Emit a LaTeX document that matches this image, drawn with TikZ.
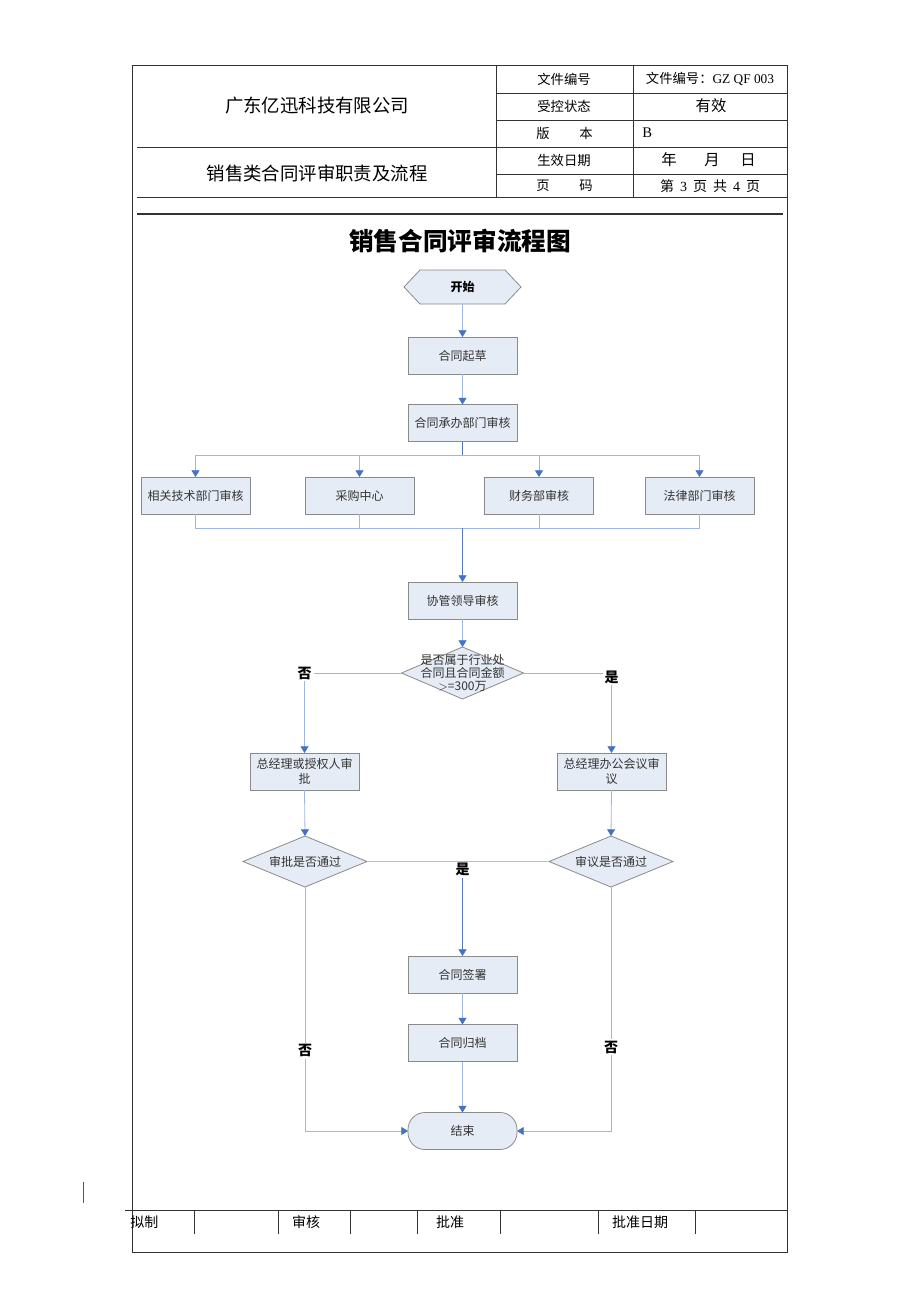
\documentclass[tikz,border=0pt]{standalone}
\usepackage{fontspec}
\setmainfont{Liberation Serif}
\newfontfamily\cjk{Noto Sans CJK SC}
\usetikzlibrary{arrows.meta,calc}
\definecolor{boxfill}{HTML}{E6ECF6}
\definecolor{boxline}{HTML}{8A8A8A}
\definecolor{conn}{HTML}{9FB6E0}
\definecolor{connd}{HTML}{5479C2}
\definecolor{tip}{HTML}{4472C4}
\definecolor{pinkl}{HTML}{E6A9BD}
\definecolor{frame}{HTML}{333333}
\definecolor{redmark}{HTML}{D0203C}
\begin{document}
\begin{tikzpicture}[x=0.75pt,y=-0.75pt,
  box/.style={draw=boxline, fill=boxfill, line width=0.6pt, minimum width=81.75pt, minimum height=27.75pt, inner sep=1pt, outer sep=0pt, align=center, font=\cjk\fontsize{9}{11.5}\selectfont, text=black!80},
  ghost/.style={inner sep=0pt, outer sep=0pt, align=center, font=\cjk\fontsize{9}{9.8}\selectfont, text=black!80},
  shapeline/.style={draw=boxline, fill=boxfill, line width=0.6pt},
  flow/.style={draw=conn, line width=0.6pt},
  flowd/.style={draw=connd, line width=0.6pt},
  arr/.style={flow, -{Triangle[width=6pt,length=5pt,color=tip]}},
  arrd/.style={flowd, -{Triangle[width=6pt,length=5pt,color=tip]}},
  yn/.style={font=\cjk\bfseries\fontsize{10.5}{12}\selectfont, fill=white, inner sep=1.5pt},
  hdr/.style={font=\cjk\fontsize{10}{12}\selectfont, inner sep=0pt},
  tline/.style={draw=frame, line width=0.6pt}
]
\useasboundingbox (0,0) rectangle (920,1302);
\fill[white] (0,0) rectangle (920,1302);

% ---------- frame and header table ----------
\draw[tline] (132,65) rectangle (787,1252);
\draw[tline] (496,65) -- (496,198);
\draw[tline] (633,65) -- (633,198);
\foreach \yy in {93,120,147,174} { \draw[tline] (496,\yy) -- (787,\yy); }
\draw[tline] (137,147) -- (496,147);
\draw[tline] (137,197.5) -- (787,197.5);
\draw[draw=frame, line width=1.4pt] (137,214) -- (783,214);

\node[font=\cjk\fontsize{13.8}{16}\selectfont] (company) at (317,106) {广东亿迅科技有限公司};
\node[font=\cjk\fontsize{13.8}{16}\selectfont] (subtitle) at (317,173) {销售类合同评审职责及流程};

\node[hdr] (h1) at (564,79) {文件编号};
\node[hdr] (h2) at (564,106) {受控状态};
\node[hdr] (h3a) at (543,133) {版};
\node[hdr] (h3b) at (586,133) {本};
\node[hdr] (h4) at (564,160) {生效日期};
\node[hdr] (h5a) at (543,186) {页};
\node[hdr] (h5b) at (586,186) {码};

\node[inner sep=0pt, font=\fontsize{10}{12}\selectfont] (v1) at (710,79) {{\cjk 文件编号：}GZ QF 003};
\node[hdr, font=\cjk\fontsize{11.5}{13}\selectfont] (v2) at (711,106) {有效};
\node[inner sep=0pt, anchor=west, font=\fontsize{11}{13}\selectfont] (v3) at (642,133) {B};
\node[hdr, font=\cjk\fontsize{11.5}{13}\selectfont] (v4a) at (669,160) {年};
\node[hdr, font=\cjk\fontsize{11.5}{13}\selectfont] (v4b) at (712,160) {月};
\node[hdr, font=\cjk\fontsize{11.5}{13}\selectfont] (v4c) at (748,160) {日};
\node[inner sep=0pt, font=\fontsize{10.5}{12}\selectfont] (v5) at (710,186) {{\cjk 第}\hspace{4.5pt}3\hspace{4.5pt}{\cjk 页}\hspace{4.5pt}{\cjk 共}\hspace{4.5pt}4\hspace{4.5pt}{\cjk 页}};

% ---------- title ----------
\node[font=\cjk\bfseries\fontsize{18.5}{22}\selectfont] (title) at (460,241) {销售合同评审流程图};

% ---------- flowchart nodes ----------
\node[ghost, minimum width=87.75pt, minimum height=25.5pt] (start) at (462.5,287) {};
\draw[shapeline] (start.west) -- ($(start.north west)+(16,0)$) -- ($(start.north east)+(-16,0)$) -- (start.east) -- ($(start.south east)+(-16,0)$) -- ($(start.south west)+(16,0)$) -- cycle;
\node[ghost, font=\cjk\bfseries\fontsize{9}{11}\selectfont, text=black] at (start.center) {开始};

\node[box] (draft) at (462.5,355.5) {合同起草};
\node[box] (dept) at (462.5,423) {合同承办部门审核};

\node[box] (b1) at (195.5,495.5) {相关技术部门审核};
\node[box] (b2) at (359.5,495.5) {采购中心};
\node[box] (b3) at (539,495.5) {财务部审核};
\node[box] (b4) at (699.5,495.5) {法律部门审核};

\node[box] (lead) at (462.5,600.5) {协管领导审核};

\node[ghost, minimum width=91.5pt, minimum height=39pt] (d1) at (462.5,673) {};
\draw[shapeline] (d1.west) -- (d1.north) -- (d1.east) -- (d1.south) -- cycle;
\node[ghost] at (d1.center) {是否属于行业处\\合同且合同金额\\$>$=300万};

\node[box] (gm) at (304.5,771.5) {总经理或授权人审\\批};
\node[box] (ga) at (611.5,771.5) {总经理办公会议审\\议};

\node[ghost, minimum width=93pt, minimum height=38.25pt] (a1) at (305,861.5) {};
\draw[shapeline] (a1.west) -- (a1.north) -- (a1.east) -- (a1.south) -- cycle;
\node[ghost] at (a1.center) {审批是否通过};

\node[ghost, minimum width=93pt, minimum height=38.25pt] (a2) at (611,861.5) {};
\draw[shapeline] (a2.west) -- (a2.north) -- (a2.east) -- (a2.south) -- cycle;
\node[ghost] at (a2.center) {审议是否通过};

\node[yn, fill=none] (yes) at (462.5,869) {是};

\node[box] (sign) at (462.5,974.5) {合同签署};
\node[box] (archive) at (462.5,1043) {合同归档};
\node[box, rounded corners=12.7pt] (end) at (462.5,1131) {结束};

\coordinate (bsplit) at (462.5,455);
\coordinate (bmerge) at (462.5,528);

% ---------- connectors ----------
\draw[arr] (start.south) -- (draft.north);
\draw[arr] (draft.south) -- (dept.north);
\draw[flowd] (dept.south) -- (bsplit);
\draw[arr] (bsplit) -| (b1.north);
\draw[arr] (bsplit) -| (b2.north);
\draw[arr] (bsplit) -| (b3.north);
\draw[arr] (bsplit) -| (b4.north);
\draw[flow] (b1.south) |- (bmerge);
\draw[flow] (b2.south) |- (bmerge);
\draw[flow] (b3.south) |- (bmerge);
\draw[flow] (b4.south) |- (bmerge);
\draw[arrd] (bmerge) -- (lead.north);
\draw[arr] (lead.south) -- (d1.north);
\draw[arr] (d1.west) -| node[yn, pos=0.5] {否} (gm.north);
\draw[arr] (d1.east) -| node[yn, pos=0.5, yshift=-3pt] {是} (ga.north);
\draw[arr] (gm.south) -- (a1.north);
\draw[arr] (ga.south) -- (a2.north);
\draw[draw=pinkl, line width=0.6pt] (a1.east) -- (a2.west);
\draw[arrd] (yes.south) -- (sign.north);
\draw[arr] (sign.south) -- (archive.north);
\draw[arr] (archive.south) -- (end.north);
\draw[arr] (a1.south) |- node[yn, pos=0.336] {否} (end.west);
\draw[arr] (a2.south) |- node[yn, pos=0.328] {否} (end.east);

% ---------- footer ----------
\draw[tline] (125,1210) -- (787,1210);
\foreach \xx in {194,278,350,417,500,598,695} { \draw[tline] (\xx,1210) -- (\xx,1234); }
\node[hdr, anchor=west, font=\cjk\fontsize{10.5}{12}\selectfont] (f1) at (130,1222) {拟制};
\node[hdr, font=\cjk\fontsize{10.5}{12}\selectfont] (f2) at (306,1222) {审核};
\node[hdr, font=\cjk\fontsize{10.5}{12}\selectfont] (f3) at (450,1222) {批准};
\node[hdr, font=\cjk\fontsize{10.5}{12}\selectfont] (f4) at (640,1222) {批准日期};
\draw[draw=redmark, line width=0.7pt] (83,1182) -- (83,1203);
\end{tikzpicture}
\end{document}
